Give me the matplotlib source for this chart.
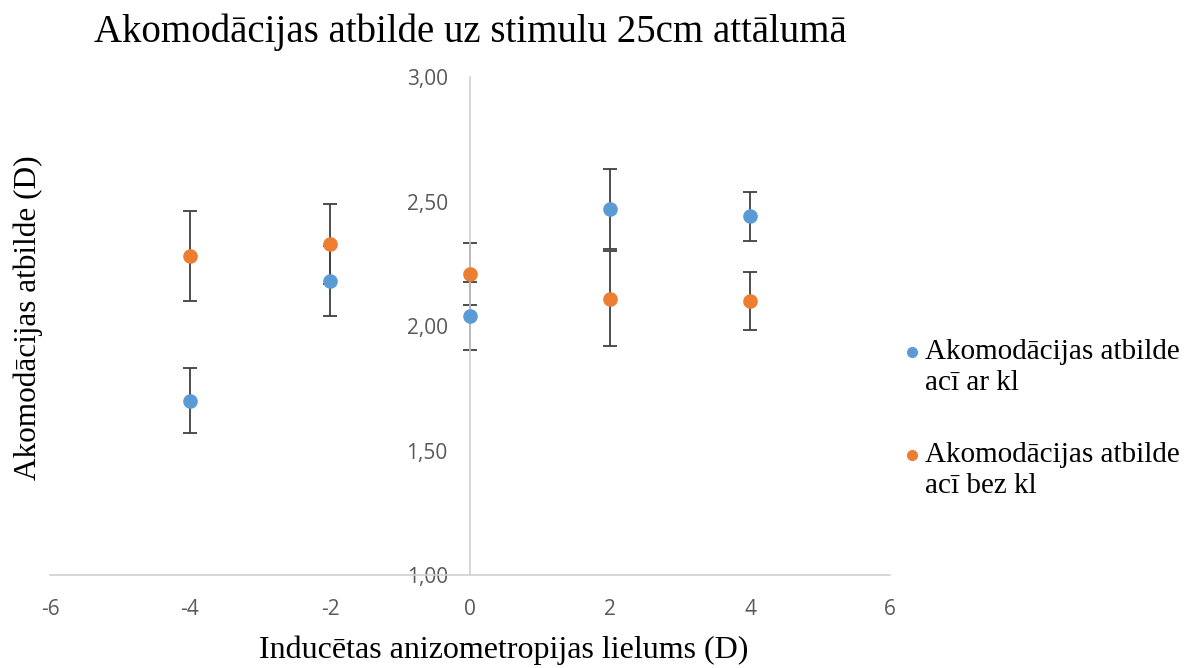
import matplotlib
matplotlib.use("Agg")
import matplotlib.pyplot as plt
from matplotlib.lines import Line2D
from matplotlib.ticker import FuncFormatter

# Dati
x_vertibas = [-4, -2, 0, 2, 4]
ar_kl = [1.70, 2.18, 2.04, 2.47, 2.44]
ar_kl_kluda = [0.13, 0.14, 0.135, 0.16, 0.10]
bez_kl = [2.28, 2.33, 2.21, 2.11, 2.10]
bez_kl_kluda = [0.18, 0.16, 0.125, 0.19, 0.117]
nosaukumi = [("Akomodācijas atbilde", "acī ar kl"),
             ("Akomodācijas atbilde", "acī bez kl")]

ZILS = "#5B9BD5"
ORANZS = "#ED7D31"
SERIF = ["Liberation Serif", "DejaVu Serif"]
SANS = ["Open Sans", "DejaVu Sans"]

fig = plt.figure(figsize=(11.84, 6.68), dpi=100)
ax = fig.add_axes([0.0422, 0.1392, 0.7095, 0.7455])

serijas = [(ar_kl, ar_kl_kluda, ZILS), (bez_kl, bez_kl_kluda, ORANZS)]
# vispirms kļūdu joslas, tad punkti virsū
for y, kl, krasa in serijas:
    ax.errorbar(x_vertibas, y, yerr=kl, fmt="none", ecolor="#404040",
                elinewidth=1.3, capsize=5, capthick=1.3, zorder=2)
for y, kl, krasa in serijas:
    ax.plot(x_vertibas, y, "o", color=krasa, ms=9.5, zorder=3)

ax.set_xlim(-6, 6)
ax.set_ylim(1, 3)
ax.set_xticks([-6, -4, -2, 0, 2, 4, 6])
ax.set_yticks([1.0, 1.5, 2.0, 2.5, 3.0])
ax.xaxis.set_major_formatter(FuncFormatter(lambda v, p: f"{v:.0f}"))
ax.yaxis.set_major_formatter(FuncFormatter(lambda v, p: f"{v:.2f}".replace(".", ",")))

ax.spines["left"].set_position(("data", 0))
ax.spines["bottom"].set_position(("data", 1))
ax.spines["top"].set_visible(False)
ax.spines["right"].set_visible(False)
for s in ("left", "bottom"):
    ax.spines[s].set_color("#D0D0D0")
    ax.spines[s].set_linewidth(1.2)

ax.tick_params(axis="both", length=0, labelsize=15, labelcolor="#595959")
ax.tick_params(axis="x", pad=17)
ax.tick_params(axis="y", pad=16)
for t in ax.get_xticklabels() + ax.get_yticklabels():
    t.set_fontfamily(SANS)

fig.text(0.397, 0.952, "Akomodācijas atbilde uz stimulu 25cm attālumā",
         ha="center", va="center", fontsize=28, family=SERIF)
fig.text(0.425, 0.027, "Inducētas anizometropijas lielums (D)",
         ha="center", va="center", fontsize=23, family=SERIF)
fig.text(0.024, 0.524, "Akomodācijas atbilde (D)", rotation=90,
         ha="center", va="center", fontsize=22.5, family=SERIF)

# leģenda
leg_y = [352, 455]
for (r1, r2), krasa, yp in zip(nosaukumi, [ZILS, ORANZS], leg_y):
    yf = 1 - yp / 668
    fig.add_artist(Line2D([0.7703], [yf], transform=fig.transFigure,
                          marker="o", color=krasa, ms=7, ls="none"))
    fig.text(0.781, yf, r1, ha="left", va="center", fontsize=21, family=SERIF)
    fig.text(0.781, yf - 31 / 668, r2, ha="left", va="center", fontsize=21,
             family=SERIF)

fig.savefig("out.png", dpi=100)
